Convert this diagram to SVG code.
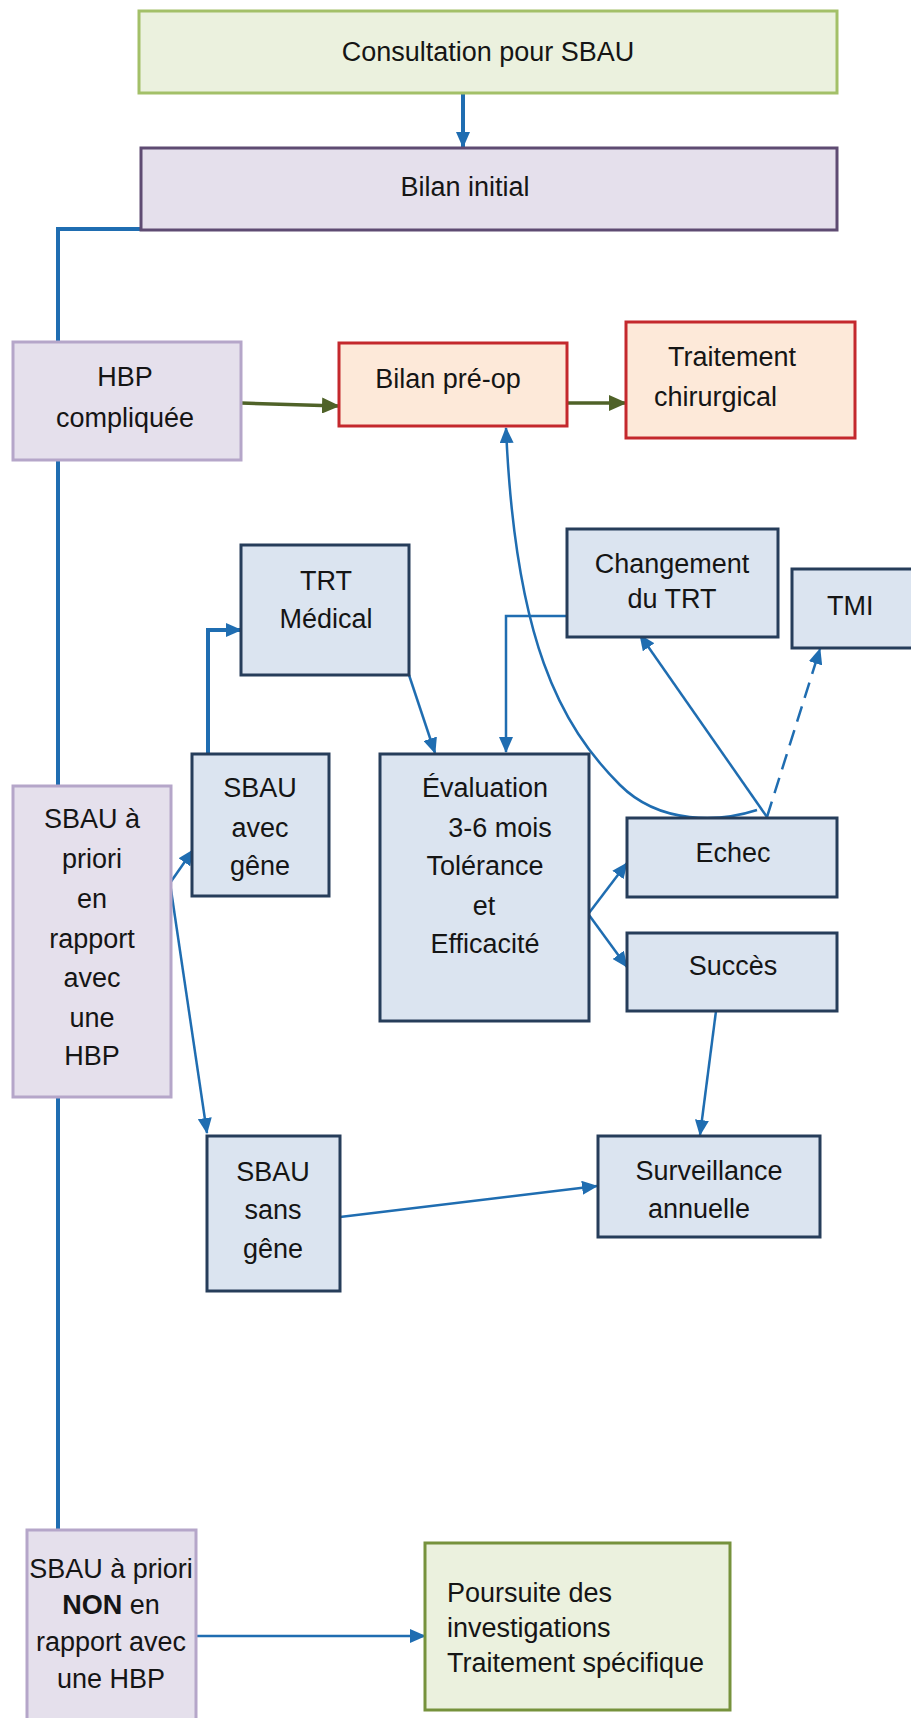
<svg xmlns="http://www.w3.org/2000/svg" width="911" height="1718" viewBox="0 0 911 1718">
<style>
.t{font-family:"Liberation Sans",Arial,sans-serif;font-size:27px;fill:#151515;text-anchor:middle}
.l{text-anchor:start}
.green{fill:#ebf1de;stroke:#a3c068;stroke-width:3}
.green2{fill:#ebf1de;stroke:#76923c;stroke-width:3}
.purple{fill:#e5e0ec;stroke:#b5a6c9;stroke-width:3}
.purpleD{fill:#e5e0ec;stroke:#5e4b72;stroke-width:3}
.red{fill:#fde9d9;stroke:#c4282d;stroke-width:3}
.blue{fill:#dbe4f0;stroke:#263d5a;stroke-width:3}
.c{fill:none;stroke:#1f6db1;stroke-width:2.5}
.thick{stroke-width:4}
.cg{fill:none;stroke:#4f6228;stroke-width:3.5}
</style>
<defs>
<marker id="ab" markerUnits="userSpaceOnUse" markerWidth="16" markerHeight="14" refX="15" refY="7" orient="auto"><path d="M0,0 L16,7 L0,14 z" fill="#1f6db1"/></marker>
<marker id="ag" markerUnits="userSpaceOnUse" markerWidth="18" markerHeight="16" refX="17" refY="8" orient="auto"><path d="M0,0 L18,8 L0,16 z" fill="#4f6228"/></marker>
</defs>
<rect width="911" height="1718" fill="#ffffff"/>

<g id="connectors">
<line class="c thick" x1="463" y1="93" x2="463" y2="147" marker-end="url(#ab)"/>
<polyline class="c thick" points="162,229 58,229 58,342"/>
<line class="c thick" x1="58" y1="460" x2="58" y2="786"/>
<line class="c thick" x1="58" y1="1097" x2="58" y2="1530"/>
<line class="cg" x1="241" y1="403" x2="339" y2="406" marker-end="url(#ag)"/>
<line class="cg" x1="567" y1="403" x2="626" y2="403" marker-end="url(#ag)"/>
<polyline class="c thick" points="208,754 208,630 241,630" marker-end="url(#ab)"/>
<line class="c" x1="409" y1="675" x2="435" y2="753" marker-end="url(#ab)"/>
<polyline class="c" points="567,616 506,616 506,752" marker-end="url(#ab)"/>
<path class="c" d="M757,810 C720,822 660,825 620,785 C560,725 515,640 506,428" marker-end="url(#ab)"/>
<line class="c" x1="767" y1="817" x2="640" y2="635" marker-end="url(#ab)"/>
<line class="c" x1="767" y1="817" x2="820" y2="649" stroke-dasharray="16,9" marker-end="url(#ab)"/>
<line class="c" x1="589" y1="913" x2="627" y2="863" marker-end="url(#ab)"/>
<line class="c" x1="589" y1="915" x2="627" y2="967" marker-end="url(#ab)"/>
<line class="c" x1="716" y1="1011" x2="700" y2="1135" marker-end="url(#ab)"/>
<line class="c" x1="170" y1="883" x2="193" y2="850" marker-end="url(#ab)"/>
<line class="c" x1="170" y1="883" x2="207" y2="1133" marker-end="url(#ab)"/>
<line class="c" x1="340" y1="1217" x2="597" y2="1186" stroke-width="3" marker-end="url(#ab)"/>
<line class="c" x1="196" y1="1636" x2="425" y2="1636" stroke-width="3" marker-end="url(#ab)"/>
</g>

<g id="consultation">
<rect class="green" x="139" y="11" width="698" height="82"/>
<text class="t" x="488" y="61" font-size="32">Consultation pour SBAU</text>
</g>

<g id="bilan-initial">
<rect class="purpleD" x="141" y="148" width="696" height="82"/>
<text class="t" x="465" y="196" font-size="31.5">Bilan initial</text>
</g>

<g id="hbp-compliquee">
<rect class="purple" x="13" y="342" width="228" height="118"/>
<text class="t" x="125" y="386" font-size="29">HBP</text>
<text class="t" x="125" y="427" font-size="29">compliquée</text>
</g>

<g id="bilan-preop">
<rect class="red" x="339" y="343" width="228" height="83"/>
<text class="t" x="448" y="388" font-size="30">Bilan pré-op</text>
</g>

<g id="traitement-chirurgical">
<rect class="red" x="626" y="322" width="229" height="116"/>
<text class="t l" x="668" y="366" font-size="30">Traitement</text>
<text class="t l" x="654" y="406" font-size="30">chirurgical</text>
</g>

<g id="trt-medical">
<rect class="blue" x="241" y="545" width="168" height="130"/>
<text class="t" x="326" y="590" font-size="28">TRT</text>
<text class="t" x="326" y="628" font-size="28">Médical</text>
</g>

<g id="changement-trt">
<rect class="blue" x="567" y="529" width="211" height="108"/>
<text class="t" x="672" y="573" font-size="25">Changement</text>
<text class="t" x="672" y="608" font-size="25">du TRT</text>
</g>

<g id="tmi">
<rect class="blue" x="792" y="569" width="130" height="79"/>
<text class="t l" x="827" y="615" font-size="32">TMI</text>
</g>

<g id="sbau-avec-gene">
<rect class="blue" x="192" y="754" width="137" height="142"/>
<text class="t" x="260" y="797">SBAU</text>
<text class="t" x="260" y="837">avec</text>
<text class="t" x="260" y="875">gêne</text>
</g>

<g id="evaluation">
<rect class="blue" x="380" y="754" width="209" height="267"/>
<text class="t" x="485" y="797">Évaluation</text>
<text class="t" x="500" y="837">3-6 mois</text>
<text class="t" x="485" y="875">Tolérance</text>
<text class="t" x="484" y="915">et</text>
<text class="t" x="485" y="953">Efficacité</text>
</g>

<g id="echec">
<rect class="blue" x="627" y="818" width="210" height="79"/>
<text class="t" x="733" y="862">Echec</text>
</g>

<g id="succes">
<rect class="blue" x="627" y="933" width="210" height="78"/>
<text class="t" x="733" y="975">Succès</text>
</g>

<g id="sbau-hbp">
<rect class="purple" x="13" y="786" width="158" height="311"/>
<text class="t" x="92" y="828">SBAU à</text>
<text class="t" x="92" y="868">priori</text>
<text class="t" x="92" y="908">en</text>
<text class="t" x="92" y="948">rapport</text>
<text class="t" x="92" y="987">avec</text>
<text class="t" x="92" y="1027">une</text>
<text class="t" x="92" y="1065">HBP</text>
</g>

<g id="sbau-sans-gene">
<rect class="blue" x="207" y="1136" width="133" height="155"/>
<text class="t" x="273" y="1181">SBAU</text>
<text class="t" x="273" y="1219">sans</text>
<text class="t" x="273" y="1258">gêne</text>
</g>

<g id="surveillance">
<rect class="blue" x="598" y="1136" width="222" height="101"/>
<text class="t" x="709" y="1180">Surveillance</text>
<text class="t" x="699" y="1218">annuelle</text>
</g>

<g id="sbau-non-hbp">
<rect class="purple" x="27" y="1530" width="169" height="200"/>
<text class="t" x="111" y="1578" font-size="22.5">SBAU à priori</text>
<text class="t" x="111" y="1614" font-size="22.5"><tspan font-weight="bold">NON</tspan> en</text>
<text class="t" x="111" y="1651" font-size="22.5">rapport  avec</text>
<text class="t" x="111" y="1688" font-size="22.5">une HBP</text>
</g>

<g id="poursuite">
<rect class="green2" x="425" y="1543" width="305" height="167"/>
<text class="t l" x="447" y="1602" font-size="25">Poursuite des</text>
<text class="t l" x="447" y="1637" font-size="25">investigations</text>
<text class="t l" x="447" y="1672" font-size="25">Traitement spécifique</text>
</g>
</svg>
